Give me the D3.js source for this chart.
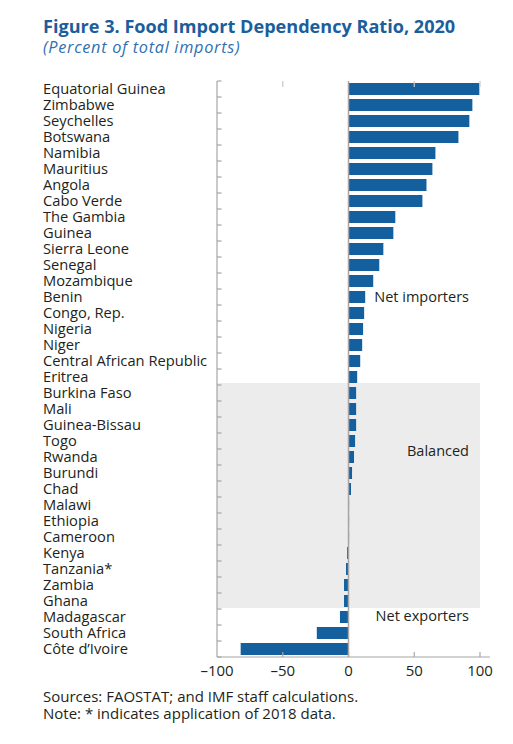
<!DOCTYPE html>
<html>
<head>
<meta charset="utf-8">
<script src="https://cdn.jsdelivr.net/npm/d3@7"></script>
<style>
  html, body { margin: 0; padding: 0; background: #fff; }
  svg { display: block; font-family: "Open Sans", "Noto Sans", sans-serif; }
</style>
</head>
<body>
<svg id="chart" width="513" height="744"></svg>
<script>
const countries = ["Equatorial Guinea","Zimbabwe","Seychelles","Botswana","Namibia","Mauritius","Angola","Cabo Verde","The Gambia","Guinea","Sierra Leone","Senegal","Mozambique","Benin","Congo, Rep.","Nigeria","Niger","Central African Republic","Eritrea","Burkina Faso","Mali","Guinea-Bissau","Togo","Rwanda","Burundi","Chad","Malawi","Ethiopia","Cameroon","Kenya","Tanzania*","Zambia","Ghana","Madagascar","South Africa","Côte d’Ivoire"];
const values = [99.5,94.2,91.9,83.6,66.1,63.8,59.3,56.2,35.6,34.1,26.5,23.4,18.8,12.7,11.9,11.1,10.4,8.9,6.6,5.8,5.8,5.8,5.0,4.2,2.7,1.9,0.3,0.2,0.1,-1.1,-1.9,-3.4,-3.4,-6.5,-24.1,-82.0];
const xTicks = [-100,-50,0,50,100];
const tickLabels = ["\u2013100","\u201350","0","50","100"];
const groups = [
  {label:"Net importers", anchor:"Benin"},
  {label:"Balanced", anchor:"Rwanda"},
  {label:"Net exporters", anchor:"Madagascar"}
];
const balancedFrom = "Burkina Faso", balancedTo = "Ghana";
const title = "Figure 3. Food Import Dependency Ratio, 2020";
const subtitle = "(Percent of total imports)";
const notes = ["Sources: FAOSTAT; and IMF staff calculations.","Note: * indicates application of 2018 data."];

(function(){
const svg = d3.select("#chart");
const x = d3.scaleLinear().domain([-100,100]).range([217,480]);
const y = d3.scaleBand().domain(countries).range([81,657]).paddingInner(0.25).paddingOuter(0.125);
const step = y.step(), bw = y.bandwidth();
const yTop = 81, yBot = 657;

// title
svg.append("text").attr("x",43).attr("y",32.5).attr("fill","#1b5e9c")
  .attr("font-weight","bold").attr("font-size",18.1).text(title);
svg.append("text").attr("x",43).attr("y",53).attr("fill","#2f70b2")
  .attr("font-style","italic").attr("font-size",16.3).attr("letter-spacing",0.7).text(subtitle);

// balanced shading
svg.append("rect").attr("x",x(-100)).attr("width",x(100)-x(-100))
  .attr("y",y(balancedFrom)-step*0.25)
  .attr("height",(y(balancedTo)+bw+step*0.0625)-(y(balancedFrom)-step*0.25))
  .attr("fill","#ececec");

// bars
svg.append("g").selectAll("rect").data(countries).join("rect")
  .attr("x",(d,i)=>x(Math.min(0,values[i])))
  .attr("width",(d,i)=>Math.max(0.6,Math.abs(x(values[i])-x(0))))
  .attr("y",d=>y(d)).attr("height",bw)
  .attr("fill","#14609e");

// zero line
svg.append("line").attr("x1",x(0)).attr("x2",x(0)).attr("y1",yTop).attr("y2",yBot)
  .attr("stroke","#a6a6a6").attr("stroke-width",1.5);

// left axis
const la = svg.append("g").attr("stroke","#a6a6a6").attr("stroke-width",1.2);
la.append("line").attr("x1",x(-100)).attr("x2",x(-100)).attr("y1",yTop).attr("y2",yBot);
const bounds = countries.map(c=>y(c)-step*0.125);
bounds.push(yBot);
la.selectAll(".t").data(bounds).join("line")
  .attr("x1",x(-100)).attr("x2",x(-100)+4.5).attr("y1",d=>d).attr("y2",d=>d);

// top ticks
svg.append("g").selectAll("line").data(xTicks.filter(v=>v!==-100 && v!==0)).join("line")
  .attr("x1",d=>x(d)).attr("x2",d=>x(d)).attr("y1",yTop).attr("y2",yTop+6)
  .attr("stroke","#c8c8c8").attr("stroke-width",1.2);

// bottom axis
const ba = svg.append("g").attr("stroke","#a6a6a6").attr("stroke-width",1.2);
ba.append("line").attr("x1",x(-100)).attr("x2",490).attr("y1",yBot).attr("y2",yBot);
ba.selectAll(".t").data(xTicks.filter(v=>v!==-100)).join("line")
  .attr("x1",d=>x(d)).attr("x2",d=>x(d)).attr("y1",yBot).attr("y2",yBot-5);
svg.append("g").selectAll("text").data(xTicks).join("text")
  .attr("x",d=>x(d)).attr("y",676).attr("text-anchor","middle")
  .attr("font-size",15).attr("fill","#231f20")
  .text((d,i)=>tickLabels[i]);

// category labels
svg.append("g").selectAll("text").data(countries).join("text")
  .attr("x",43).attr("y",d=>y(d)+bw/2+5.3)
  .attr("font-size",14.7).attr("fill","#231f20").text(d=>d);

// group labels
const gOff = {"Net importers":4.7,"Balanced":-1,"Net exporters":3.7};
svg.append("g").selectAll("text").data(groups).join("text")
  .attr("x",469).attr("y",d=>y(d.anchor)+bw/2+gOff[d.label])
  .attr("text-anchor","end").attr("font-size",14.5).attr("fill","#231f20")
  .text(d=>d.label);

// notes
svg.append("g").selectAll("text").data(notes).join("text")
  .attr("x",43).attr("y",(d,i)=>701.5+i*17)
  .attr("font-size",15).attr("fill","#231f20").text(d=>d);
})();
</script>
</body>
</html>
